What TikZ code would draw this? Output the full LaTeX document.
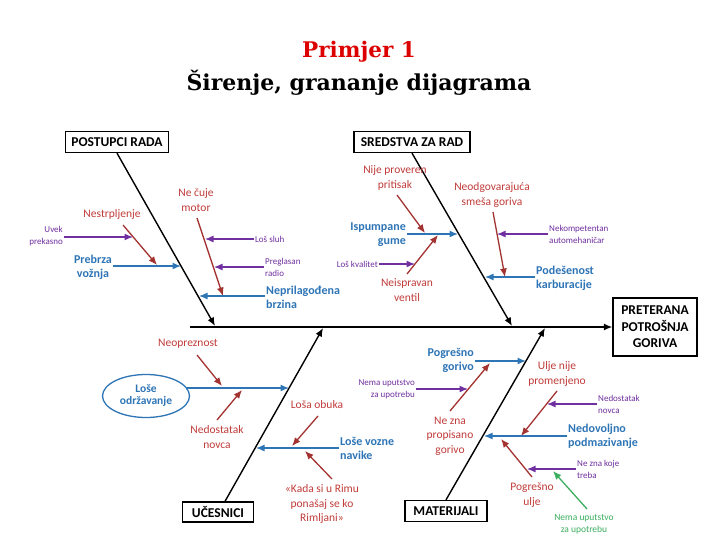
\documentclass[tikz,border=0pt]{standalone}
\usepackage{fontspec}
\setmainfont{Carlito}
\newfontfamily\titlefont{DejaVu Serif}
\usetikzlibrary{arrows.meta,shapes.geometric}
\definecolor{cred}{RGB}{192,60,58}
\definecolor{cblue}{RGB}{46,117,182}
\definecolor{cpurp}{RGB}{112,48,160}
\definecolor{cgreen}{RGB}{60,175,95}
\definecolor{ctitle}{RGB}{220,0,0}
\tikzset{
  tip/.style={-{Latex[length=8.5pt,width=7pt]}},
  bone/.style={tip, black, line width=1.4pt},
  barr/.style={tip, cblue, line width=1.3pt},
  rarr/.style={tip, cred!85!black, line width=1.3pt},
  parr/.style={tip, cpurp, line width=1.3pt},
  garr/.style={tip, cgreen, line width=1.3pt},
  cat/.style={draw=black, line width=1.3pt, fill=white, font=\bfseries\fontsize{13.5}{15}\selectfont, inner sep=0pt, minimum height=21pt},
  btxt/.style={text=cblue, font=\bfseries\fontsize{12}{14}\selectfont, inner sep=1pt},
  rtxt/.style={text=cred, font=\fontsize{11.5}{14.5}\selectfont, align=center, inner sep=1pt},
  ptxt/.style={text=cpurp, font=\fontsize{9}{12}\selectfont, inner sep=1pt},
  gtxt/.style={text=cgreen, font=\fontsize{9.5}{12}\selectfont, align=center, inner sep=1pt}
}
\begin{document}
\begin{tikzpicture}[x=1pt,y=-1pt]
\useasboundingbox[fill=white] (0,0) rectangle (720,540);

% title
\node[text=ctitle, font=\titlefont\bfseries\fontsize{21.5}{24}\selectfont] (t1) at (359,52) {Primjer 1};
\node[text=black, font=\titlefont\bfseries\fontsize{22}{24}\selectfont] (t2) at (359,83) {Širenje, grananje dijagrama};

% effect and spine
\node[draw=black, line width=1.3pt, minimum width=84pt, minimum height=58pt, align=center, inner sep=0pt,
      font=\bfseries\fontsize{13.5}{16.5}\selectfont] (eff) at (655,327) {PRETERANA\\POTROŠNJA\\GORIVA};
\coordinate (sp) at (190,327);
\draw[bone] (sp) -- (eff.west);

% category boxes
\node[cat, minimum width=103pt] (c1) at (117,142) {POSTUPCI RADA};
\node[cat, minimum width=116pt] (c2) at (412,142) {SREDSTVA ZA RAD};
\node[cat, minimum width=71pt, minimum height=20pt] (c3) at (218,512) {UČESNICI};
\node[cat, minimum width=82pt] (c4) at (446,511) {MATERIJALI};

\coordinate (b1) at (215,326);
\coordinate (b2) at (512,326);
\coordinate (b3) at (323,328);
\coordinate (b4) at (545,328);
\draw[bone] (c1.south) -- (b1);
\draw[bone] (c2.south) -- (b2);
\draw[bone] ([xshift=7pt]c3.north) -- (b3);
\draw[bone] (c4.north) -- (b4);

% ---------- POSTUPCI RADA ----------
\node[btxt, align=center] (nPV) at (93,267) {Prebrza\\vožnja};
\coordinate (ePV) at (181,266);
\draw[barr] (nPV.east |- ePV) -- (ePV);

\node[rtxt] (nNs) at (112,214) {Nestrpljenje};
\coordinate (eNs) at (157,265);
\draw[rarr] (123,225) coordinate (sNs) -- (eNs);

\node[ptxt, align=right, anchor=east] (nUP) at (64,236) {Uvek\\prekasno};
\coordinate (eUP) at (133,237);
\draw[parr] (nUP.east |- eUP) -- (eUP);

\node[rtxt] (nNCM) at (196,200) {Ne čuje\\motor};
\coordinate (sNCM) at (197,218);
\coordinate (eNCM) at (223,296);
\draw[rarr] (sNCM) -- (eNCM);

\node[ptxt, anchor=west] (nLS) at (254,239) {Loš sluh};
\coordinate (eLS) at (205,239);
\draw[parr] (nLS.west) -- (eLS);

\node[ptxt, align=left, anchor=west] (nPR) at (264,267) {Preglasan\\radio};
\coordinate (ePR) at (214,267);
\draw[parr] (nPR.west) -- (ePR);

\node[btxt, align=left, anchor=west] (nNB) at (265,297) {Neprilagođena\\brzina};
\coordinate (eNB) at (199,296);
\draw[barr] (nNB.west |- eNB) -- (eNB);

% ---------- SREDSTVA ZA RAD ----------
\node[btxt, align=right, anchor=east] (nIG) at (407,235) {Ispumpane\\gume};
\coordinate (eIG) at (458,234);
\draw[barr] (nIG.east |- eIG) -- (eIG);

\node[rtxt] (nNPP) at (395,178) {Nije proveren\\pritisak};
\coordinate (sNPP) at (397,195);
\coordinate (eNPP) at (425,233);
\draw[rarr] (sNPP) -- (eNPP);

\node[rtxt] (nNV) at (407,290) {Neispravan\\ventil};
\coordinate (sNV) at (407,274);
\coordinate (eNV) at (438,235);
\draw[rarr] (sNV) -- (eNV);

\node[ptxt, anchor=east] (nLK) at (379,264) {Loš kvalitet};
\coordinate (eLK) at (415,264);
\draw[parr] (nLK.east) -- (eLK);

\node[rtxt] (nNSG) at (492,195) {Neodgovarajuća\\smeša goriva};
\coordinate (sNSG) at (493,212);
\coordinate (eNSG) at (505,277);
\draw[rarr] (sNSG) -- (eNSG);

\node[ptxt, align=left, anchor=west] (nNA) at (548,234) {Nekompetentan\\automehaničar};
\coordinate (eNA) at (497,234);
\draw[parr] (nNA.west) -- (eNA);

\node[btxt, align=left, anchor=west] (nPK) at (535,278) {Podešenost\\karburacije};
\coordinate (ePK) at (485,277);
\draw[barr] (nPK.west |- ePK) -- (ePK);

% ---------- UČESNICI ----------
\node[ellipse, draw=cblue, line width=1.3pt, minimum width=87pt, minimum height=43pt, inner sep=0pt,
      text=cblue, font=\bfseries\fontsize{11.5}{13}\selectfont] (nLO) at (146,396)
      {\raisebox{4pt}{\begin{tabular}{@{}c@{}}Loše\\[-1.5pt]održavanje\end{tabular}}};
\coordinate (eLO) at (289,388);
\draw[barr] (nLO.12 |- eLO) -- (eLO);

\node[rtxt] (nNo) at (188,344) {Neopreznost};
\coordinate (sNo) at (197,355);
\coordinate (eNo) at (222,386);
\draw[rarr] (sNo) -- (eNo);

\node[rtxt] (nND) at (217,437) {Nedostatak\\novca};
\coordinate (sND) at (217,420);
\coordinate (eND) at (242,390);
\draw[rarr] (sND) -- (eND);

\node[rtxt] (nLOb) at (317,405) {Loša obuka};
\coordinate (sLOb) at (318,416);
\coordinate (eLOb) at (292,446);
\draw[rarr] (sLOb) -- (eLOb);

\node[btxt, align=left, anchor=west] (nLVN) at (339,448) {Loše vozne\\navike};
\coordinate (eLVN) at (256,448);
\draw[barr] (nLVN.west |- eLVN) -- (eLVN);

\node[rtxt] (nKR) at (322,504) {«Kada si u Rimu\\ponašaj se ko\\Rimljani»};
\coordinate (sKR) at (332,479);
\coordinate (eKR) at (305,451);
\draw[rarr] (sKR) -- (eKR);

% ---------- MATERIJALI ----------
\node[btxt, align=right, anchor=east] (nPG) at (475,360) {Pogrešno\\gorivo};
\coordinate (ePG) at (526,361);
\draw[barr] (nPG.east |- ePG) -- (ePG);

\node[ptxt, align=right, anchor=east] (nNU1) at (416,389) {Nema uputstvo\\za upotrebu};
\coordinate (eNU1) at (468,389);
\draw[parr] (nNU1.east |- eNU1) -- (eNU1);

\node[rtxt] (nNZP) at (450,436) {Ne zna\\propisano\\gorivo};
\coordinate (sNZP) at (450,411);
\coordinate (eNZP) at (490,363);
\draw[rarr] (sNZP) -- (eNZP);

\node[rtxt] (nUNP) at (557,374) {Ulje nije\\promenjeno};
\coordinate (sUNP) at (557,391);
\coordinate (eUNP) at (521,436);
\draw[rarr] (sUNP) -- (eUNP);

\node[ptxt, align=left, anchor=west] (nND2) at (597,404) {Nedostatak\\novca};
\coordinate (eND2) at (547,404);
\draw[parr] (nND2.west) -- (eND2);

\node[btxt, align=left, anchor=west] (nNP) at (567,436) {Nedovoljno\\podmazivanje};
\coordinate (eNP) at (484,436);
\draw[barr] (nNP.west |- eNP) -- (eNP);

\node[rtxt] (nPU) at (532,495) {Pogrešno\\ulje};
\coordinate (sPU) at (532,477);
\coordinate (ePU) at (501,439);
\draw[rarr] (sPU) -- (ePU);

\node[ptxt, align=left, anchor=west] (nNZK) at (576,469) {Ne zna koje\\treba};
\coordinate (eNZK) at (527,469);
\draw[parr] (nNZK.west) -- (eNZK);

\node[gtxt] (nNU2) at (584,524) {Nema uputstvo\\za upotrebu};
\coordinate (sNU2) at (587,509);
\coordinate (eNU2) at (553,471);
\draw[garr] (sNU2) -- (eNU2);

\end{tikzpicture}
\end{document}
